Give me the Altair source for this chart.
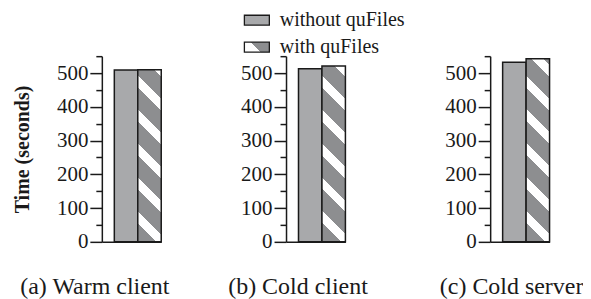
import json
import altair as alt
import pandas as pd

# ---- data ----
panels = ["(a) Warm client", "(b) Cold client", "(c) Cold server"]
series = ["without quFiles", "with quFiles"]
without_vals = [509, 513, 532]
with_vals = [510, 521, 542]
y_ticks = [0, 50, 100, 150, 200, 250, 300, 350, 400, 450, 500, 550]

# ---- style ----
FONT = "Liberation Serif"
INK = "#1a1a1a"
SOLID = "#a8a9ab"
HATCH = "#8d8e90"
PLOT_W = 59.5
PLOT_H = 186
Y_MAX = 550
PAD_OUTER = 0.266
STEP = PLOT_W / (2 + 2 * PAD_OUTER)
TITLE_X = [-7.5, 11.5, 21]
EXTRA_W = [0, 20.5, 0]


def segments_to_gradient(w, h, segs):
    total = w + h
    k = total / (w * w + h * h)
    stops = []
    for s0, s1, col in segs:
        stops.append({"offset": round(s0 / total, 5), "color": col})
        stops.append({"offset": round(s1 / total, 5), "color": col})
    return {"gradient": "linear", "x1": 0, "y1": 1,
            "x2": round(w * k, 5), "y2": round(1 - h * k, 5), "stops": stops}


def stripe_gradient(w, h, period=34.0, ws=19.0, we=31.0):
    total = w + h
    segs = []
    pos = 0.0
    n = -1
    while pos < total:
        a = ws + n * period
        b = we + n * period
        n += 1
        if b <= pos:
            continue
        a = max(a, pos)
        if a > pos:
            segs.append((pos, min(a, total), HATCH))
        if a < total:
            segs.append((a, min(b, total), "white"))
        pos = min(b, total)
    return segments_to_gradient(w, h, segs)


legend_grad = segments_to_gradient(25, 10, [(0, 16, "white"), (16, 35, HATCH)])


def panel(i):
    df = pd.DataFrame({"series": series, "value": [without_vals[i], with_vals[i]]})
    x = alt.X(
        "series:N", sort=series,
        scale=alt.Scale(domain=series, range=[0, PLOT_W], paddingInner=0,
                        paddingOuter=PAD_OUTER, align=1),
        axis=alt.Axis(title=panels[i], labels=False, ticks=False, grid=False,
                      domainColor=INK, domainWidth=1.5, titleFont=FONT, titleFontSize=24,
                      titleFontWeight="normal", titleColor=INK, titleX=TITLE_X[i],
                      titleY=51.5, titleAlign="center", titleBaseline="alphabetic"),
    )
    yaxis = dict(values=y_ticks, labelExpr="datum.value % 100 === 0 ? datum.label : ''",
                 tickSize={"condition": {"test": "datum.value % 100 !== 0", "value": 6}, "value": 12},
                 tickColor=INK, tickWidth=1.5, domainColor=INK, domainWidth=1.5,
                 labelFont=FONT, labelFontSize=21, labelColor=INK, labelPadding=2,
                 grid=False)
    if i == 0:
        yaxis.update(title="Time (seconds)", titleFont=FONT, titleFontSize=20,
                     titleFontWeight="bold", titleColor=INK, titleX=-79,
                     titleBaseline="middle")
    else:
        yaxis.update(title=None)
    y = alt.Y("value:Q", scale=alt.Scale(domain=[0, Y_MAX], nice=False), axis=alt.Axis(**yaxis))
    base = alt.Chart(df).encode(x=x, y=y)
    h_with = with_vals[i] / Y_MAX * PLOT_H
    layers = []
    if i == 1:
        carrier = base.mark_bar(opacity=0).encode(
            fill=alt.Fill(
                "series:N",
                scale=alt.Scale(domain=series, range=[SOLID, {"expr": json.dumps(legend_grad)}]),
                legend=alt.Legend(orient="none", legendX=144.3, legendY=-47, title=None,
                                  symbolType="M-1.25,-0.5H1.25V0.5H-1.25Z", symbolSize=400,
                                  symbolStrokeColor=INK, symbolStrokeWidth=1.3,
                                  symbolOpacity=1, labelFont=FONT, labelFontSize=20,
                                  labelColor=INK, labelOffset=12, rowPadding=6, padding=0),
            )
        )
        layers.append(carrier)
    layers.append(base.transform_filter(alt.datum.series == series[0])
                  .mark_bar(fill=SOLID, stroke=INK, strokeWidth=1.5))
    layers.append(base.transform_filter(alt.datum.series == series[1])
                  .mark_bar(fill=stripe_gradient(STEP, h_with), stroke=INK, strokeWidth=1.5))
    return alt.layer(*layers).properties(width=PLOT_W + EXTRA_W[i], height=PLOT_H)


chart = (
    alt.hconcat(panel(0), panel(1), panel(2), spacing=124.5, bounds="flush")
    .properties(padding={"left": 4, "top": 1, "right": 0, "bottom": 0})
    .configure(background="white", font=FONT)
    .configure_axis(labelFont=FONT, titleFont=FONT, grid=False)
    .configure_legend(labelFont=FONT)
    .configure_view(stroke=None)
)

chart.save("out.html", embed_options={"renderer": "svg", "actions": False})
